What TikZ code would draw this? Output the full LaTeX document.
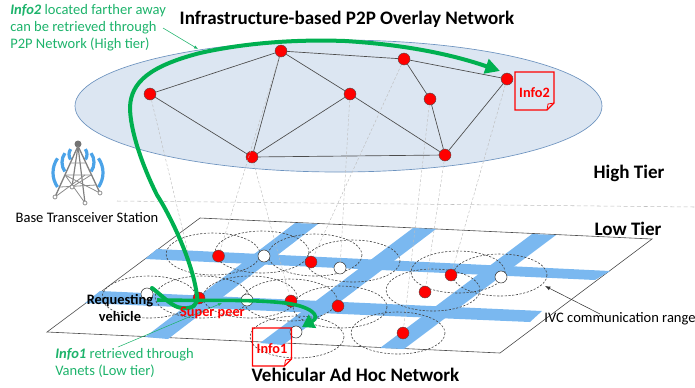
\documentclass[tikz,border=0pt]{standalone}
\usepackage{fontspec}
\setmainfont{Carlito}
\usetikzlibrary{arrows.meta}
\definecolor{gogreen}{HTML}{00B050}
\definecolor{textgreen}{HTML}{1DB36B}
\definecolor{roadblue}{HTML}{7AB8F0}
\definecolor{waveblue}{HTML}{4BA3E8}
\definecolor{overlayfill}{HTML}{DCE6F2}
\definecolor{overlayline}{HTML}{6D93BF}
\tikzset{
	peerred/.style={circle,draw=black!70,line width=0.3pt,fill=red,inner sep=0pt,minimum size=9pt},
	peerwhite/.style={circle,draw=black!80,line width=0.4pt,fill=white,inner sep=0pt,minimum size=9pt},
	overlay link/.style={draw=black!70,line width=0.5pt},
	drop link/.style={draw=black!25,line width=0.35pt,dash pattern=on 2pt off 1.5pt},
	heading/.style={font=\bfseries\fontsize{14.3}{17}\selectfont,text=black,inner sep=0pt},
	greentext/.style={font=\fontsize{10.9}{12.75}\selectfont,text=textgreen,align=left,inner sep=0pt},
	smalltext/.style={font=\fontsize{10.9}{12.6}\selectfont,text=black,inner sep=0pt},
	boldtext/.style={font=\bfseries\fontsize{10.8}{12.8}\selectfont,text=black,align=center,inner sep=0pt},
	redtext/.style={font=\bfseries\fontsize{10.7}{12}\selectfont,text=red,inner sep=0pt},
	thick path/.style={draw=gogreen,line width=3pt},
	leader/.style={draw=textgreen,line width=0.4pt,-{Latex[length=3pt,width=2.5pt]}}
}
\newcommand{\rangecircle}[2] % x, y of the centre
{
	\draw[black!75,line width=0.45pt,dash pattern=on 1.6pt off 1.2pt] (#1,#2) ellipse (47 and 21);
}
\newcommand{\infodoc}[3] % x, y of top left corner, label
{
	% page
	\draw[red,line width=1pt] (#1,#2) -- ++(39,0) -- ++(0,31) -- ++(-7,7) -- ++(-32,0) -- cycle;
	% folded corner
	\draw[red,line width=0.6pt] (#1+39,#2+31) -- ++(-6,1) -- ++(-1,6);
	\node[redtext] (#3) at (#1+19.5,#2+21) {#3};
}
\begin{document}
\begin{tikzpicture}[x=0.75pt,y=-0.75pt]
	\useasboundingbox (0,0) rectangle (695,387);
	% overlay network
	\draw[draw=overlayline,fill=overlayfill,line width=0.5pt] (338.5,106) ellipse (263.5 and 66);
	% tier separator
	\draw[black!25,line width=0.4pt,dash pattern=on 3pt off 2pt] (117,201) -- (695,207);
	% road plane
	\draw[black!70,line width=0.45pt] (200,218) -- (652,239) -- (500,353) -- (47,332) -- cycle;
	% roads along
	\fill[roadblue] (157,249) -- (610,271) -- (595,280) -- (145,259) -- cycle;
	\fill[roadblue] (100,291) -- (542,311) -- (530,322) -- (85,303) -- cycle;
	% roads across
	\fill[roadblue] (295,223) -- (318,224) -- (168,339) -- (145,337) -- cycle;
	\fill[roadblue] (413,228) -- (436,229) -- (283,345) -- (260,343) -- cycle;
	\fill[roadblue] (532,234) -- (556,235) -- (404,349) -- (380,348) -- cycle;
	% ranges - upper row
	\rangecircle{213}{254}
	\rangecircle{262}{252}
	\rangecircle{315}{255}
	\rangecircle{353}{261}
	\rangecircle{458}{272}
	\rangecircle{500}{275}
	% ranges - middle row
	\rangecircle{149}{297}
	\rangecircle{202}{297}
	\rangecircle{250}{297}
	\rangecircle{290}{300}
	\rangecircle{340}{307}
	\rangecircle{433}{290}
	% ranges - lower row
	\rangecircle{297}{337}
	\rangecircle{398}{333}
	% base transceiver station
	\foreach \r in {9,16,25}{
		\draw[waveblue,line width=2.4pt] (78,144)+(145:\r) arc[start angle=145,end angle=215,radius=\r*0.75pt];
		\draw[waveblue,line width=2.4pt] (78,144)+(35:\r) arc[start angle=35,end angle=-35,radius=\r*0.75pt];
	}
	\fill[black!55] (78,144) circle (3.5);
	\draw[black!50,line width=1pt] (78,146) -- (55,197);
	\draw[black!50,line width=1pt] (78,146) -- (100,193);
	\draw[black!50,line width=0.9pt] (78,146) -- (72,187);
	\draw[black!50,line width=0.9pt] (78,146) -- (85,203);
	\draw[black!45,line width=0.6pt] (70,163) -- (85,163) (65,175) -- (91,175) (60,187) -- (96,185);
	\draw[black!45,line width=0.6pt] (55,197) -- (85,175) (100,193) -- (65,175) (72,187) -- (91,175) (85,203) -- (65,175);
	\draw[black!50,fill=white,line width=0.5pt] (55,197) circle (2) (100,193) circle (2) (72,187) circle (2) (85,203) circle (2);
	% high tier peers
	\node[peerred] (a) at (150,94) {};
	\node[peerred] (b) at (281,51) {};
	\node[peerred] (c) at (350,94) {};
	\node[peerred] (d) at (404,59) {};
	\node[peerred] (e) at (430,99) {};
	\node[peerred] (f) at (507,79) {};
	\node[peerred] (g) at (252,157) {};
	\node[peerred] (h) at (445,155) {};
	% low tier peers
	\node[peerred] (p1) at (218.5,256) {};
	\node[peerred] (p2) at (311,262) {};
	\node[peerred] (p3) at (199,298) {};
	\node[peerred] (p4) at (291,301) {};
	\node[peerred] (p5) at (338,306) {};
	\node[peerred] (p6) at (403,333) {};
	\node[peerred] (p7) at (425,292) {};
	\node[peerred] (p8) at (451,275) {};
	\node[peerwhite] (v1) at (264,256) {};
	\node[peerwhite] (v2) at (340,268) {};
	\node[peerwhite] (v3) at (147,294) {};
	\node[peerwhite] (v4) at (247,300) {};
	\node[peerwhite] (v5) at (296,332) {};
	\node[peerwhite] (v6) at (501,277) {};
	% overlay links
	\draw[overlay link] (a) -- (b);
	\draw[overlay link] (a) -- (g);
	\draw[overlay link] (b) -- (g);
	\draw[overlay link] (b) -- (c);
	\draw[overlay link] (c) -- (g);
	\draw[overlay link] (b) -- (d);
	\draw[overlay link] (d) -- (f);
	\draw[overlay link] (d) -- (e);
	\draw[overlay link] (e) -- (h);
	\draw[overlay link] (f) -- (h);
	\draw[overlay link] (c) -- (h);
	\draw[overlay link] (g) -- (h);
	% drops between tiers
	\draw[drop link] (a) -- (p3);
	\draw[drop link] (b) -- (p1);
	\draw[drop link] (g) -- (p4);
	\draw[drop link] (c) -- (v2);
	\draw[drop link] (d) -- (p2);
	\draw[drop link] (e) -- (p6);
	\draw[drop link] (h) -- (p7);
	\draw[drop link] (f) -- (p8);
	% documents
	\infodoc{515}{72}{Info2}
	\infodoc{252.5}{328}{Info1}
	% retrieval through the high tier
	\coordinate (start2) at (152,288);
	\coordinate (end2) at (500,71);
	\draw[thick path,line cap=round,-{Triangle[length=11pt,width=11pt]}] (start2)
		.. controls (165,298) and (172,307) .. (182,308)
		.. controls (193,309) and (198,305) .. (197,296)
		.. controls (193,262) and (170,215) .. (157,195)
		.. controls (142,165) and (130,130) .. (130,107)
		.. controls (131,82) and (150,66) .. (200,53)
		.. controls (240,44) and (290,39) .. (345,41)
		.. controls (395,44) and (445,52) .. (end2);
	% retrieval through the low tier
	\coordinate (start1) at (157,300);
	\draw[thick path,line width=2.7pt,-{Triangle[length=9pt,width=11pt]}] (start1)
		.. controls (210,301) and (250,299) .. (285,303)
		.. controls (310,306) and (322,316) .. (302,327);
	% leaders
	\node[greentext] (note2) at (10,28) [anchor=west] {\textbf{\textit{Info2}} located farther away\\can be retrieved through\\P2P Network (High tier)};
	\node[greentext] (note1) at (55,362.5) [anchor=west] {\textbf{\textit{Info1}} retrieved through\\Vanets (Low tier)};
	\coordinate (lead2a) at (163,28);
	\coordinate (lead2b) at (198,49);
	\coordinate (lead1a) at (118,347);
	\coordinate (lead1b) at (222,303);
	\draw[leader] (lead2a) -- (lead2b);
	\draw[leader] (lead1a) -- (lead1b);
	% labels
	\node[heading] (title) at (347,19) {Infrastructure-based P2P Overlay Network};
	\node[heading] (high) at (629,173) {High Tier};
	\node[heading] (low) at (628,229) {Low Tier};
	\node[heading] (vanet) at (355.5,375) {Vehicular Ad Hoc Network};
	\node[smalltext] (bts) at (87,218) {Base Transceiver Station};
	\node[boldtext] (req) at (120,308) {Requesting\\vehicle};
	\node[redtext] (super) at (212.5,313) {Super peer};
	\node[smalltext] (ivc) at (620,319) {IVC communication range};
	\coordinate (ivctip) at (545,286);
	\draw[black!80,line width=0.4pt,-{Latex[length=4pt,width=3pt]}] (600,314) -- (ivctip);
\end{tikzpicture}
\end{document}
